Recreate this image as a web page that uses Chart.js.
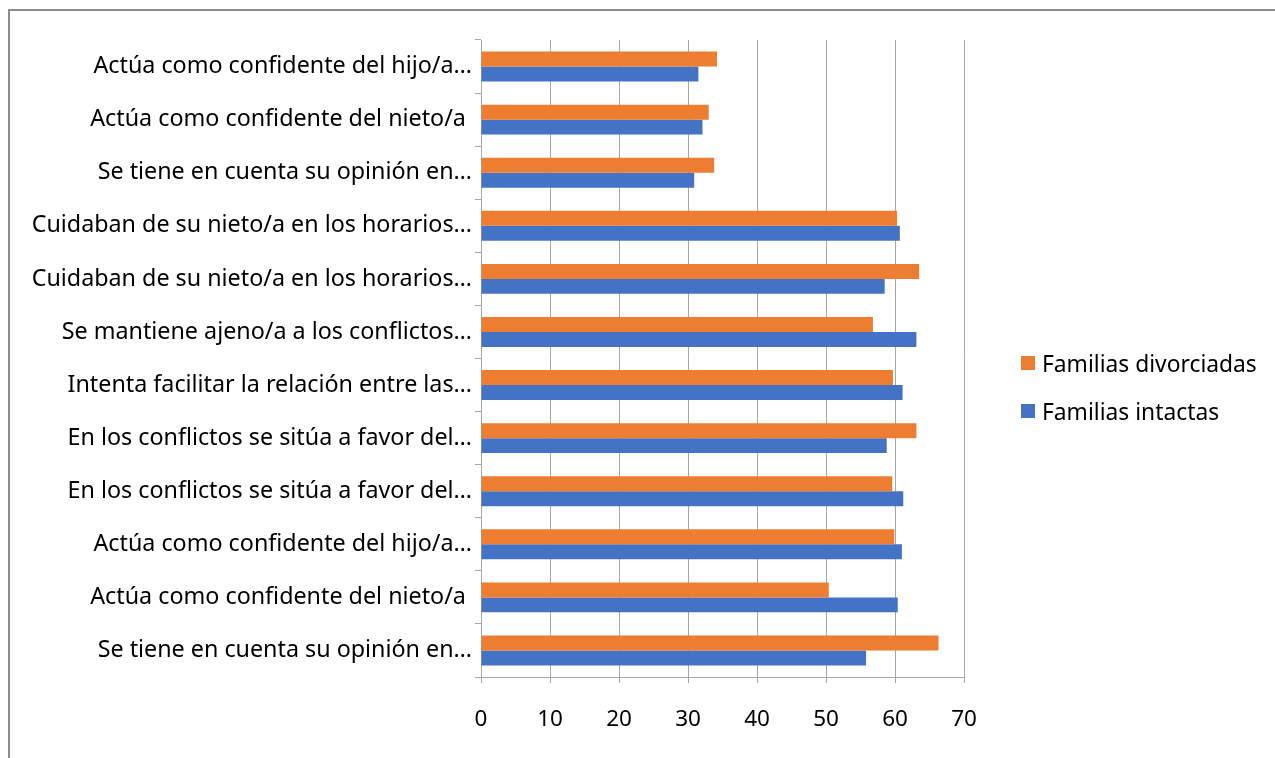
<!DOCTYPE html>
<html>
<head>
<meta charset="utf-8">
<script src="https://cdn.jsdelivr.net/npm/chart.js@4.4.1/dist/chart.umd.min.js"></script>
<style>
  html, body { margin: 0; padding: 0; background: #fff; overflow: hidden; }
  #wrap { position: relative; width: 1275px; height: 758px; overflow: hidden; }
  #frame { position: absolute; left: 8px; top: 9px; width: 1300px; height: 800px; border: 2px solid #8c8c8c; box-sizing: border-box; pointer-events: none; }
  #legend { position: absolute; left: 1021px; top: 345px; font-family: "Noto Sans", sans-serif; font-size: 22.8px; color: #000; }
  #legend div { display: flex; align-items: center; height: 36px; margin-bottom: 12px; white-space: nowrap; }
  #legend span.sw { display: inline-block; width: 14px; height: 14px; margin-right: 7px; }
</style>
</head>
<body>
<div id="wrap">
  <canvas id="chart" width="1275" height="758"></canvas>
  <div id="frame"></div>
  <div id="legend"></div>
</div>
<script>
const categories = [
  'Actúa como confidente del hijo/a…',
  'Actúa como confidente del nieto/a ',
  'Se tiene en cuenta su opinión en…',
  'Cuidaban de su nieto/a en los horarios…',
  'Cuidaban de su nieto/a en los horarios…',
  'Se mantiene ajeno/a a los conflictos…',
  'Intenta facilitar la relación entre las…',
  'En los conflictos se sitúa a favor del…',
  'En los conflictos se sitúa a favor del…',
  'Actúa como confidente del hijo/a…',
  'Actúa como confidente del nieto/a ',
  'Se tiene en cuenta su opinión en…'
];
const divorciadas = [34.2, 33.0, 33.8, 60.3, 63.5, 56.8, 59.7, 63.1, 59.6, 59.9, 50.4, 66.3];
const intactas = [31.5, 32.1, 30.9, 60.7, 58.5, 63.1, 61.1, 58.8, 61.2, 61.0, 60.4, 55.8];
const seriesNames = ['Familias divorciadas', 'Familias intactas'];
const seriesColors = ['#ED7D31', '#4472C4'];
const xTicks = [0, 10, 20, 30, 40, 50, 60, 70];

const font = "'Noto Sans', sans-serif";

const ctx = document.getElementById('chart').getContext('2d');
new Chart(ctx, {
  type: 'bar',
  data: {
    labels: categories,
    datasets: [
      { label: seriesNames[0], data: divorciadas, backgroundColor: seriesColors[0] },
      { label: seriesNames[1], data: intactas, backgroundColor: seriesColors[1] }
    ]
  },
  options: {
    indexAxis: 'y',
    responsive: false,
    animation: false,
    layout: { padding: { top: 40, right: 311, left: 0, bottom: 0 } },
    datasets: { bar: { barPercentage: 1, categoryPercentage: 0.565 } },
    plugins: { legend: { display: false }, tooltip: { enabled: false } },
    scales: {
      x: {
        min: 0, max: 70,
        afterBuildTicks: (s) => { s.ticks = xTicks.map(v => ({ value: v })); },
        afterFit: (s) => { s.height = 758 - 677; },
        grid: { color: '#a6a6a6', lineWidth: 1, tickLength: 6 },
        border: { color: '#a6a6a6' },
        ticks: { color: '#000', font: { family: font, size: 22.5 }, padding: 23 }
      },
      y: {
        afterFit: (s) => { s.width = 481; },
        grid: { drawOnChartArea: false, color: '#a6a6a6', tickLength: 6, offset: true },
        border: { color: '#a6a6a6' },
        ticks: { color: '#000', font: { family: font, size: 23.3 }, padding: 3, autoSkip: false }
      }
    }
  }
});

const legend = document.getElementById('legend');
seriesNames.forEach((name, i) => {
  const row = document.createElement('div');
  row.innerHTML = '<span class="sw" style="background:' + seriesColors[i] + '"></span>' + name;
  legend.appendChild(row);
});
</script>
</body>
</html>
